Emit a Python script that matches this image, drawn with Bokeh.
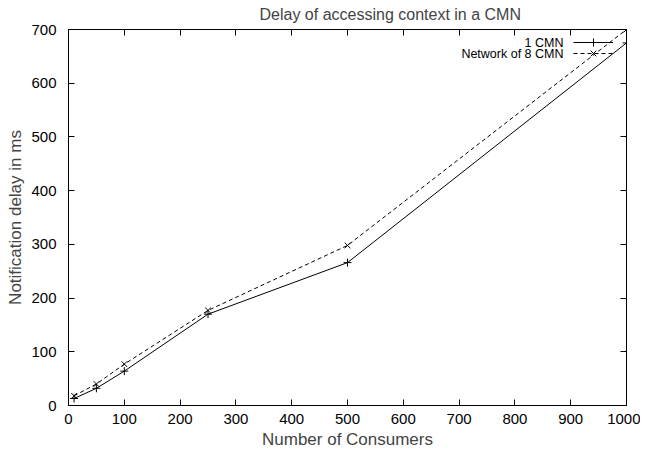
from bokeh.plotting import figure
from bokeh.models import (LinearAxis, Range1d, Legend, LegendItem, Label, FixedTicker,
                          CustomLabelingPolicy)
from bokeh.embed import file_html
from bokeh.resources import INLINE

consumers = [10, 50, 100, 250, 500, 1000]
one_cmn = [13, 32, 64, 170, 266, 675]
network_8_cmn = [18, 40, 77, 177, 298, 700]
x_ticks = [0, 100, 200, 300, 400, 500, 600, 700, 800, 900, 1000]
y_ticks = [0, 100, 200, 300, 400, 500, 600, 700]

FONT = "Liberation Sans"

p = figure(frame_width=558, frame_height=376, output_backend="svg", toolbar_location=None,
           x_range=Range1d(0, 1000), y_range=Range1d(0, 700),
           min_border_left=68, min_border_right=14, min_border_top=29, min_border_bottom=40,
           x_axis_location=None, y_axis_location=None)
p.title.text = "Delay of accessing context in a CMN"
p.title.align = "left"
p.title.offset = 191
p.title.text_font = FONT
p.title.text_font_size = "16px"
p.title.text_font_style = "normal"
p.title.standoff = 6
p.grid.visible = False
p.outline_line_color = "black"
p.outline_line_width = 1
p.background_fill_color = "white"

no_labels = CustomLabelingPolicy(code="""
if (typeof indices.clear === 'function') { indices.clear() }
else { for (let i = 0; i < indices.size; i++) { indices.unset(i) } }
return indices
""")

def make_axis(loc, ticks, label=None, show_labels=True, standoff=8):
    ax = LinearAxis(ticker=FixedTicker(ticks=ticks))
    ax.major_tick_in = 6
    ax.major_tick_out = 0
    ax.minor_tick_line_color = None
    ax.axis_line_color = "black"
    ax.major_tick_line_color = "black"
    ax.major_label_text_font = FONT
    ax.major_label_text_color = "black"
    if show_labels:
        ax.major_label_text_font_size = "15px"
        ax.major_label_standoff = standoff
    else:
        ax.major_label_text_font_size = "1px"
        ax.major_label_policy = no_labels
        ax.major_label_standoff = 0
    if label:
        ax.axis_label = label
        ax.axis_label_text_font = FONT
        ax.axis_label_text_font_size = "17px"
        ax.axis_label_text_font_style = "normal"
        ax.axis_label_standoff = 3
    p.add_layout(ax, loc)
    return ax

make_axis("below", x_ticks, "Number of Consumers", standoff=8)
make_axis("left", y_ticks, "Notification delay in ms", standoff=12)
make_axis("above", x_ticks, show_labels=False)
make_axis("right", y_ticks, show_labels=False)

l1 = p.line(consumers, one_cmn, line_color="black", line_width=1)
s1 = p.scatter(consumers, one_cmn, marker="cross", size=8, line_color="black", line_width=1)
l2 = p.line(consumers, network_8_cmn, line_color="black", line_width=1, line_dash="4 3")
s2 = p.scatter(consumers, network_8_cmn, marker="x", size=8, line_color="black", line_width=1)

for renderers, loc_y in [([l1, s1], 353), ([l2, s2], 342)]:
    legend = Legend(items=[LegendItem(label=" ", renderers=renderers)],
                    location=(505, loc_y), orientation="vertical",
                    glyph_width=40, glyph_height=20, label_height=20, label_width=0,
                    label_standoff=0, spacing=0, padding=0, margin=0,
                    border_line_color=None, background_fill_alpha=0,
                    label_text_font_size="1px")
    p.add_layout(legend, "center")

for txt, yy in [("1 CMN", 363), ("Network of 8 CMN", 352)]:
    p.add_layout(Label(x=495, y=yy, x_units="screen", y_units="screen", text=txt,
                       text_align="right", text_baseline="middle",
                       text_font=FONT, text_font_size="12.5px", text_color="black"))

open("out.html", "w").write(file_html(p, INLINE))
